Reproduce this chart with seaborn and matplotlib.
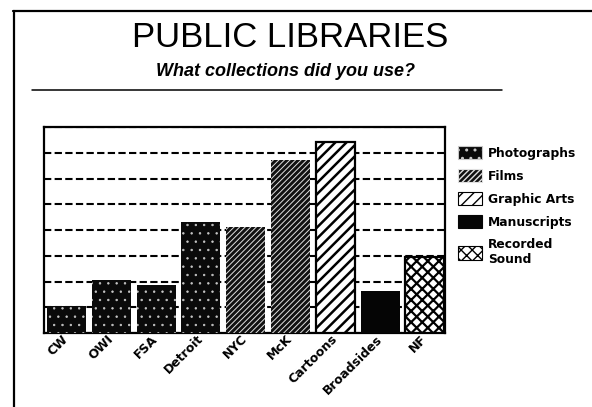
import matplotlib
matplotlib.use("Agg")
import matplotlib.pyplot as plt
from matplotlib.lines import Line2D
from matplotlib.patches import Patch
import numpy as np
import pandas as pd
import seaborn as sns

# --- data -------------------------------------------------------------
collections = ["CW", "OWI", "FSA", "Detroit", "NYC", "McK", "Cartoons", "Broadsides", "NF"]
usage = [1.05, 2.05, 1.85, 4.3, 4.1, 6.7, 7.4, 1.65, 2.95]
kinds = ["Photographs", "Photographs", "Photographs", "Photographs", "Films", "Films",
         "Graphic Arts", "Manuscripts", "Recorded Sound"]
kind_order = ["Photographs", "Films", "Graphic Arts", "Manuscripts", "Recorded Sound"]
legend_labels = ["Photographs", "Films", "Graphic Arts", "Manuscripts", "Recorded\nSound"]
y_gridlines = list(range(0, 9))

# fill / hatch style for each kind of collection
styles = {
    "Photographs":    dict(face="#0a0a0a", hatch="..",     hcolor="#c8c8c8", hlw=0.5, lw=0.0),
    "Films":          dict(face="#111111", hatch="//////", hcolor="#e0e0e0", hlw=0.7, lw=0.0),
    "Graphic Arts":   dict(face="white",   hatch="///",    hcolor="black",   hlw=1.8, lw=1.6),
    "Manuscripts":    dict(face="#050505", hatch=None,     hcolor="black",   hlw=1.0, lw=0.0),
    "Recorded Sound": dict(face="white",   hatch="xxx",    hcolor="black",   hlw=1.6, lw=1.6),
}

df = pd.DataFrame({"collection": collections, "usage": usage, "kind": kinds})

sns.set_style("white")
plt.rcParams["font.family"] = ["DejaVu Sans"]
plt.rcParams["text.color"] = "black"
plt.rcParams["xtick.color"] = "black"
plt.rcParams["xtick.labelcolor"] = "black"

fig = plt.figure(figsize=(5.92, 4.07), dpi=100)
W, H = 592, 407
ax = fig.add_axes([44 / W, 1 - 333 / H, (445 - 44) / W, (333 - 127) / H])

palette = {k: styles[k]["face"] for k in kind_order}
sns.barplot(data=df, x="collection", y="usage", hue="kind", hue_order=kind_order,
            order=collections, palette=palette, dodge=False, width=0.87,
            saturation=1, legend=False, ax=ax, zorder=3)


def style_patch(p, kind):
    st = styles[kind]
    p.set_facecolor(st["face"])
    if st["hatch"]:
        p.set_hatch(st["hatch"])
        p.set_edgecolor(st["hcolor"])
        if hasattr(p, "set_hatch_linewidth"):
            p.set_hatch_linewidth(st["hlw"])
    else:
        p.set_edgecolor(st["face"])
    p.set_linewidth(st["lw"])


for bar in ax.patches:
    idx = int(round(bar.get_x() + bar.get_width() / 2))
    if 0 <= idx < len(kinds) and bar.get_height() > 0:
        style_patch(bar, kinds[idx])

# axes frame and dashed gridlines
ax.set_xlim(-0.5, 8.45)
ax.set_ylim(0, 8)
ax.set_yticks(y_gridlines)
ax.set_yticklabels([])
ax.tick_params(axis="y", length=0)
ax.yaxis.grid(True, color="black", linewidth=1.5, linestyle=(0, (3.5, 1.6)), zorder=0)
ax.xaxis.grid(False)
ax.set_axisbelow(True)
for s in ax.spines.values():
    s.set_visible(True)
    s.set_color("black")
    s.set_linewidth(1.6)
ax.set_xlabel("")
ax.set_ylabel("")
ax.tick_params(axis="x", length=0, pad=3, colors="black")
ax.set_xticks(range(len(collections)))
ax.set_xticklabels(collections, rotation=45, ha="right", va="center",
                   rotation_mode="anchor", fontsize=9, fontweight="bold", color="black")

# legend beside the plot
handles = []
for k in kind_order:
    st = styles[k]
    h = Patch(facecolor=st["face"], hatch=st["hatch"],
              edgecolor=st["hcolor"] if st["hatch"] else st["face"], linewidth=0.8)
    handles.append(h)
leg = fig.legend(handles, legend_labels, loc="upper left",
                 bbox_to_anchor=(458 / W, 1 - 146 / H), frameon=False,
                 prop=dict(size=8.8, weight="bold"), handlelength=2.0,
                 handleheight=1.3, handletextpad=0.45, labelspacing=0.76,
                 borderpad=0, borderaxespad=0)
for t in leg.get_texts():
    t.set_color("black")

# title block
fig.text(290 / W, 1 - 47 / H, "PUBLIC LIBRARIES", ha="center", va="baseline",
         fontsize=25, family="Liberation Sans", color="black")
fig.text(285 / W, 1 - 76 / H, "What collections did you use?", ha="center",
         va="baseline", fontsize=13, family="Liberation Sans",
         fontweight="bold", style="italic", color="black")

# page frame and rule under the heading
fig.add_artist(Line2D([13 / W, 1.0], [1 - 11 / H, 1 - 11 / H], color="black",
                      linewidth=1.6, transform=fig.transFigure))
fig.add_artist(Line2D([14 / W, 14 / W], [0, 1 - 11 / H], color="black",
                      linewidth=1.6, transform=fig.transFigure))
fig.add_artist(Line2D([32 / W, 502 / W], [1 - 90 / H, 1 - 90 / H], color="black",
                      linewidth=1.1, transform=fig.transFigure))

fig.savefig("out.png", dpi=100)
